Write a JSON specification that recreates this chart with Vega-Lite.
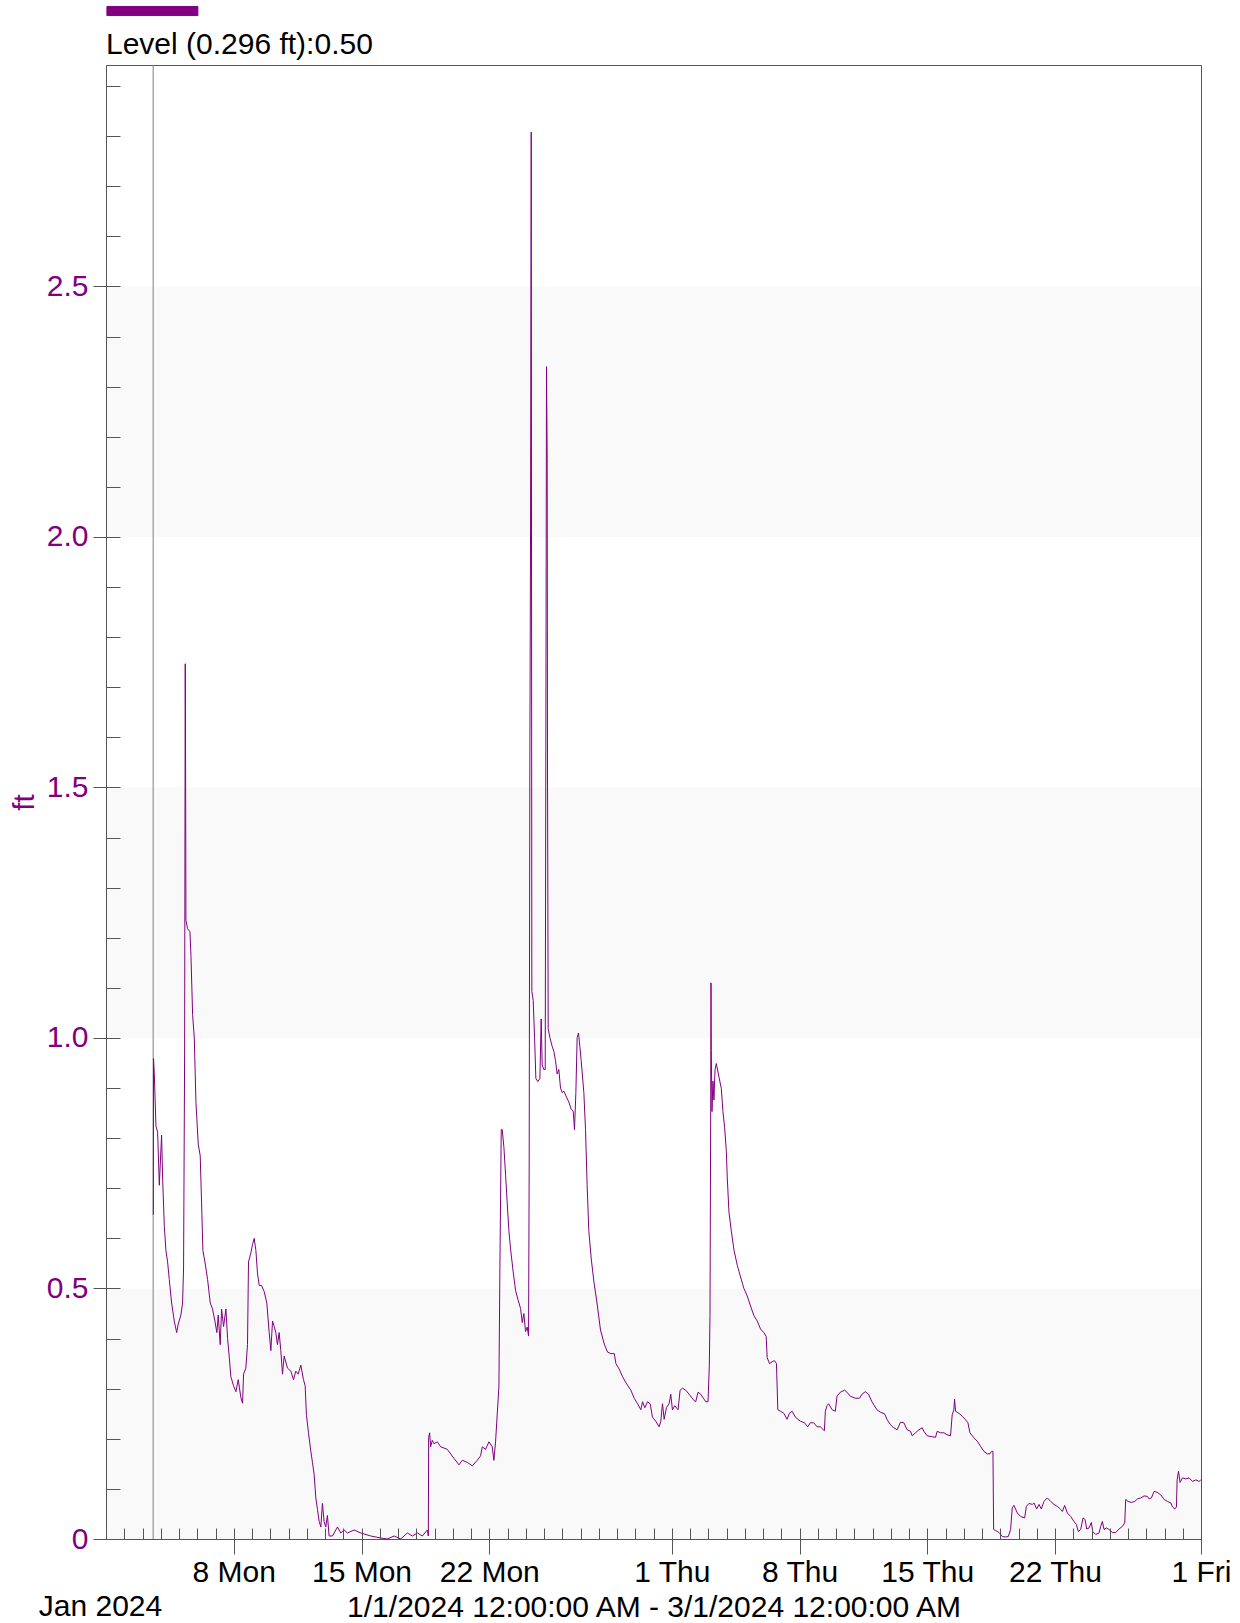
{
  "$schema": "https://vega.github.io/schema/vega-lite/v6.json",
  "width": 1095,
  "height": 1474,
  "autosize": "none",
  "padding": {"left": 106, "top": 65, "right": 39, "bottom": 84},
  "background": "white",
  "config": {
    "font": "Liberation Sans",
    "view": {"stroke": "#555555", "strokeWidth": 1}
  },
  "resolve": {"axis": {"x": "independent", "y": "independent"}},
  "layer": [
    {
      "data": {"values": [{"lo": 0, "hi": 0.5}, {"lo": 1, "hi": 1.5}, {"lo": 2, "hi": 2.5}]},
      "mark": {"type": "rect", "color": "black", "opacity": 0.024},
      "encoding": {
        "y": {"field": "lo", "type": "quantitative", "scale": {"domain": [0, 2.942], "nice": false},
          "axis": {"orient": "left", "values": [0,0.1,0.2,0.3,0.4,0.5,0.6,0.7,0.8,0.9,1,1.1,1.2,1.3,1.4,1.5,1.6,1.7,1.8,1.9,2,2.1,2.2,2.3,2.4,2.5,2.6,2.7,2.8,2.9],
            "tickSize": -14, "tickColor": "#555555", "labels": false, "domain": false, "grid": false, "title": null, "zindex": 1}},
        "y2": {"field": "hi"}
      }
    },
    {
      "data": {"values": [{"t": "2024-01-03T14:00"}]},
      "mark": {"type": "rule", "color": "#808080", "strokeWidth": 1},
      "encoding": {
        "x": {"field": "t", "type": "temporal",
          "scale": {"domain": [{"year": 2024, "month": 1, "date": 1}, {"year": 2024, "month": 3, "date": 1}]},
          "axis": {"orient": "bottom", "tickCount": {"interval": "day", "step": 1}, "tickSize": -11, "tickColor": "#555555", "labels": false, "domain": false, "grid": false, "title": null, "zindex": 1}}
      }
    },
    {
      "data": {"values": [
        {"t":"2024-01-03T14:12","v":0.647},{"t":"2024-01-03T14:30","v":0.959},{"t":"2024-01-03T15:30","v":0.929},{"t":"2024-01-03T17:42","v":0.824},{"t":"2024-01-03T19:54","v":0.812},{"t":"2024-01-03T22:06","v":0.706},{"t":"2024-01-04T01:06","v":0.806},{"t":"2024-01-04T02:30","v":0.718},{"t":"2024-01-04T04:42","v":0.624},{"t":"2024-01-04T06:48","v":0.576},{"t":"2024-01-04T09:00","v":0.553},{"t":"2024-01-04T11:12","v":0.518},{"t":"2024-01-04T14:18","v":0.471},{"t":"2024-01-04T17:48","v":0.435},{"t":"2024-01-04T20:54","v":0.412},{"t":"2024-01-04T23:00","v":0.429},{"t":"2024-01-05T02:30","v":0.447},{"t":"2024-01-05T04:42","v":0.471},{"t":"2024-01-05T06:00","v":0.541},{"t":"2024-01-05T07:24","v":0.976},{"t":"2024-01-05T08:12","v":1.747},{"t":"2024-01-05T08:42","v":1.529},{"t":"2024-01-05T09:06","v":1.235},{"t":"2024-01-05T11:18","v":1.218},{"t":"2024-01-05T14:24","v":1.212},{"t":"2024-01-05T15:42","v":1.165},{"t":"2024-01-05T17:54","v":1.047},{"t":"2024-01-05T20:06","v":1.0},{"t":"2024-01-05T22:18","v":0.871},{"t":"2024-01-06T01:18","v":0.788},{"t":"2024-01-06T03:54","v":0.765},{"t":"2024-01-06T05:42","v":0.671},{"t":"2024-01-06T07:24","v":0.576},{"t":"2024-01-06T10:06","v":0.553},{"t":"2024-01-06T13:36","v":0.518},{"t":"2024-01-06T17:06","v":0.471},{"t":"2024-01-06T20:06","v":0.459},{"t":"2024-01-06T23:12","v":0.435},{"t":"2024-01-07T01:48","v":0.412},{"t":"2024-01-07T03:36","v":0.447},{"t":"2024-01-07T06:12","v":0.388},{"t":"2024-01-07T08:00","v":0.459},{"t":"2024-01-07T10:36","v":0.424},{"t":"2024-01-07T13:42","v":0.459},{"t":"2024-01-07T15:54","v":0.4},{"t":"2024-01-07T18:00","v":0.365},{"t":"2024-01-07T20:12","v":0.324},{"t":"2024-01-07T23:42","v":0.306},{"t":"2024-01-08T02:48","v":0.294},{"t":"2024-01-08T05:54","v":0.318},{"t":"2024-01-08T09:24","v":0.282},{"t":"2024-01-08T11:36","v":0.271},{"t":"2024-01-08T12:54","v":0.329},{"t":"2024-01-08T15:54","v":0.341},{"t":"2024-01-08T18:06","v":0.388},{"t":"2024-01-08T19:24","v":0.553},{"t":"2024-01-08T22:30","v":0.571},{"t":"2024-01-09T00:42","v":0.588},{"t":"2024-01-09T02:54","v":0.6},{"t":"2024-01-09T05:06","v":0.576},{"t":"2024-01-09T07:18","v":0.529},{"t":"2024-01-09T09:30","v":0.506},{"t":"2024-01-09T12:30","v":0.506},{"t":"2024-01-09T16:00","v":0.494},{"t":"2024-01-09T19:30","v":0.471},{"t":"2024-01-09T22:36","v":0.412},{"t":"2024-01-10T00:48","v":0.376},{"t":"2024-01-10T03:00","v":0.435},{"t":"2024-01-10T05:12","v":0.424},{"t":"2024-01-10T07:18","v":0.412},{"t":"2024-01-10T09:30","v":0.388},{"t":"2024-01-10T11:42","v":0.412},{"t":"2024-01-10T13:54","v":0.376},{"t":"2024-01-10T16:06","v":0.329},{"t":"2024-01-10T18:18","v":0.365},{"t":"2024-01-10T22:42","v":0.341},{"t":"2024-01-11T03:06","v":0.335},{"t":"2024-01-11T06:36","v":0.318},{"t":"2024-01-11T09:36","v":0.335},{"t":"2024-01-11T12:42","v":0.329},{"t":"2024-01-11T16:12","v":0.347},{"t":"2024-01-11T19:42","v":0.318},{"t":"2024-01-11T21:54","v":0.306},{"t":"2024-01-11T23:36","v":0.247},{"t":"2024-01-12T02:18","v":0.212},{"t":"2024-01-12T05:18","v":0.176},{"t":"2024-01-12T07:30","v":0.153},{"t":"2024-01-12T09:42","v":0.129},{"t":"2024-01-12T11:54","v":0.082},{"t":"2024-01-12T14:06","v":0.059},{"t":"2024-01-12T16:18","v":0.035},{"t":"2024-01-12T18:30","v":0.024},{"t":"2024-01-12T20:36","v":0.071},{"t":"2024-01-12T22:48","v":0.035},{"t":"2024-01-13T01:00","v":0.024},{"t":"2024-01-13T03:12","v":0.047},{"t":"2024-01-13T05:24","v":0.006},{"t":"2024-01-13T09:48","v":0.006},{"t":"2024-01-13T16:24","v":0.024},{"t":"2024-01-13T20:42","v":0.012},{"t":"2024-01-14T01:06","v":0.018},{"t":"2024-01-14T05:30","v":0.012},{"t":"2024-01-14T14:18","v":0.018},{"t":"2024-01-14T23:00","v":0.012},{"t":"2024-01-15T12:12","v":0.006},{"t":"2024-01-16T01:18","v":0.002},{"t":"2024-01-16T10:00","v":0.0},{"t":"2024-01-16T18:48","v":0.006},{"t":"2024-01-17T03:36","v":0.0},{"t":"2024-01-17T12:18","v":0.012},{"t":"2024-01-17T18:54","v":0.006},{"t":"2024-01-18T01:30","v":0.012},{"t":"2024-01-18T08:00","v":0.006},{"t":"2024-01-18T14:36","v":0.018},{"t":"2024-01-18T15:54","v":0.006},
        {"t":"2024-01-18T16:18","v":0.203},{"t":"2024-01-18T17:36","v":0.212},{"t":"2024-01-18T18:54","v":0.184},{"t":"2024-01-18T21:06","v":0.197},{"t":"2024-01-18T23:18","v":0.19},{"t":"2024-01-19T03:42","v":0.194},{"t":"2024-01-19T08:06","v":0.184},{"t":"2024-01-19T16:48","v":0.179},{"t":"2024-01-20T01:36","v":0.161},{"t":"2024-01-20T08:12","v":0.148},{"t":"2024-01-20T12:30","v":0.157},{"t":"2024-01-20T19:06","v":0.153},{"t":"2024-01-21T01:42","v":0.146},{"t":"2024-01-21T08:12","v":0.157},{"t":"2024-01-21T12:36","v":0.166},{"t":"2024-01-21T14:48","v":0.184},{"t":"2024-01-21T19:12","v":0.179},{"t":"2024-01-21T23:36","v":0.194},{"t":"2024-01-22T03:54","v":0.184},{"t":"2024-01-22T06:06","v":0.157},{"t":"2024-01-22T08:18","v":0.194},{"t":"2024-01-22T10:30","v":0.249},{"t":"2024-01-22T12:42","v":0.304},{"t":"2024-01-22T14:00","v":0.542},{"t":"2024-01-22T15:48","v":0.817},{"t":"2024-01-22T17:06","v":0.817},{"t":"2024-01-22T19:18","v":0.781},{"t":"2024-01-22T21:30","v":0.726},{"t":"2024-01-22T23:36","v":0.671},{"t":"2024-01-23T01:48","v":0.616},{"t":"2024-01-23T04:00","v":0.579},{"t":"2024-01-23T07:30","v":0.533},{"t":"2024-01-23T10:36","v":0.496},{"t":"2024-01-23T13:42","v":0.478},{"t":"2024-01-23T17:12","v":0.46},{"t":"2024-01-23T19:24","v":0.432},{"t":"2024-01-23T21:30","v":0.45},{"t":"2024-01-23T23:42","v":0.414},{"t":"2024-01-24T01:54","v":0.423},{"t":"2024-01-24T03:42","v":0.405},{"t":"2024-01-24T04:30","v":0.744},{"t":"2024-01-24T05:24","v":1.551},{"t":"2024-01-24T06:18","v":2.01},{"t":"2024-01-24T07:12","v":2.808},{"t":"2024-01-24T08:00","v":1.093},{"t":"2024-01-24T09:48","v":1.075},{"t":"2024-01-24T11:36","v":1.001},{"t":"2024-01-24T13:18","v":0.919},{"t":"2024-01-24T15:54","v":0.913},{"t":"2024-01-24T18:36","v":0.919},{"t":"2024-01-24T20:18","v":1.038},{"t":"2024-01-24T21:36","v":0.946},{"t":"2024-01-24T23:48","v":0.937},{"t":"2024-01-25T01:36","v":0.937},{"t":"2024-01-25T02:24","v":1.551},{"t":"2024-01-25T03:18","v":2.34},{"t":"2024-01-25T04:12","v":2.157},{"t":"2024-01-25T04:36","v":1.551},{"t":"2024-01-25T05:30","v":1.019},{"t":"2024-01-25T07:42","v":1.001},{"t":"2024-01-25T10:48","v":0.983},{"t":"2024-01-25T13:00","v":0.973},{"t":"2024-01-25T15:06","v":0.955},{"t":"2024-01-25T17:18","v":0.928},{"t":"2024-01-25T19:30","v":0.937},{"t":"2024-01-25T21:42","v":0.9},{"t":"2024-01-25T23:54","v":0.891},{"t":"2024-01-26T02:06","v":0.894},{"t":"2024-01-26T05:36","v":0.882},{"t":"2024-01-26T08:42","v":0.872},{"t":"2024-01-26T11:42","v":0.858},{"t":"2024-01-26T14:24","v":0.854},{"t":"2024-01-26T16:06","v":0.817},{"t":"2024-01-26T17:54","v":0.891},{"t":"2024-01-26T19:36","v":1.001},{"t":"2024-01-26T21:24","v":1.01},{"t":"2024-01-26T23:06","v":0.983},{"t":"2024-01-27T00:54","v":0.955},{"t":"2024-01-27T04:24","v":0.891},{"t":"2024-01-27T06:36","v":0.817},{"t":"2024-01-27T08:42","v":0.707},{"t":"2024-01-27T10:54","v":0.616},{"t":"2024-01-27T14:00","v":0.561},{"t":"2024-01-27T17:30","v":0.515},{"t":"2024-01-27T21:54","v":0.469},{"t":"2024-01-28T02:18","v":0.417},
        {"t":"2024-01-28T07:18","v":0.389},{"t":"2024-01-28T11:36","v":0.373},{"t":"2024-01-28T16:00","v":0.37},{"t":"2024-01-28T20:24","v":0.37},{"t":"2024-01-28T22:36","v":0.35},{"t":"2024-01-29T02:54","v":0.339},{"t":"2024-01-29T07:18","v":0.324},{"t":"2024-01-29T11:42","v":0.312},{"t":"2024-01-29T18:12","v":0.297},{"t":"2024-01-29T22:36","v":0.281},{"t":"2024-01-30T03:00","v":0.27},{"t":"2024-01-30T07:24","v":0.258},{"t":"2024-01-30T09:36","v":0.274},{"t":"2024-01-30T12:36","v":0.262},{"t":"2024-01-30T16:06","v":0.274},{"t":"2024-01-30T19:36","v":0.27},{"t":"2024-01-30T22:42","v":0.243},{"t":"2024-01-31T03:00","v":0.235},{"t":"2024-01-31T07:24","v":0.224},{"t":"2024-01-31T09:36","v":0.235},{"t":"2024-01-31T11:48","v":0.27},{"t":"2024-01-31T14:00","v":0.239},{"t":"2024-01-31T17:00","v":0.262},{"t":"2024-01-31T20:30","v":0.27},{"t":"2024-01-31T22:42","v":0.289},{"t":"2024-02-01T00:54","v":0.258},{"t":"2024-02-01T04:00","v":0.266},{"t":"2024-02-01T08:18","v":0.258},{"t":"2024-02-01T11:00","v":0.297},{"t":"2024-02-01T14:00","v":0.301},{"t":"2024-02-01T18:24","v":0.297},{"t":"2024-02-01T22:48","v":0.289},{"t":"2024-02-02T04:24","v":0.278},{"t":"2024-02-02T07:30","v":0.274},{"t":"2024-02-02T10:36","v":0.293},{"t":"2024-02-02T14:06","v":0.289},{"t":"2024-02-02T17:36","v":0.281},{"t":"2024-02-02T20:36","v":0.274},{"t":"2024-02-02T23:42","v":0.274},{"t":"2024-02-03T01:24","v":0.347},{"t":"2024-02-03T02:18","v":0.446},{"t":"2024-02-03T03:12","v":0.853},{"t":"2024-02-03T03:36","v":1.11},{"t":"2024-02-03T04:00","v":0.975},{"t":"2024-02-03T04:54","v":0.853},{"t":"2024-02-03T06:12","v":0.914},{"t":"2024-02-03T07:30","v":0.876},{"t":"2024-02-03T08:54","v":0.937},{"t":"2024-02-03T10:36","v":0.949},{"t":"2024-02-03T14:06","v":0.922},{"t":"2024-02-03T17:12","v":0.899},{"t":"2024-02-03T19:18","v":0.853},{"t":"2024-02-03T21:30","v":0.822},{"t":"2024-02-03T23:42","v":0.776},{"t":"2024-02-04T01:00","v":0.722},{"t":"2024-02-04T03:12","v":0.653},{"t":"2024-02-04T06:18","v":0.615},{"t":"2024-02-04T09:48","v":0.577},{"t":"2024-02-04T14:12","v":0.546},{"t":"2024-02-04T18:30","v":0.523},{"t":"2024-02-04T22:54","v":0.5},{"t":"2024-02-05T03:18","v":0.485},{"t":"2024-02-05T07:36","v":0.465},{"t":"2024-02-05T12:00","v":0.446},{"t":"2024-02-05T16:24","v":0.435},{"t":"2024-02-05T20:48","v":0.419},{"t":"2024-02-06T01:06","v":0.412},{"t":"2024-02-06T04:12","v":0.404},{"t":"2024-02-06T05:30","v":0.362},{"t":"2024-02-06T08:36","v":0.35},{"t":"2024-02-06T12:06","v":0.354},{"t":"2024-02-06T15:06","v":0.356},{"t":"2024-02-06T17:42","v":0.35},{"t":"2024-02-06T19:30","v":0.258},{"t":"2024-02-06T23:00","v":0.255},{"t":"2024-02-07T03:24","v":0.251},{"t":"2024-02-07T07:42","v":0.239},{"t":"2024-02-07T10:48","v":0.251},{"t":"2024-02-07T14:18","v":0.255},{"t":"2024-02-07T18:42","v":0.243},{"t":"2024-02-08T01:12","v":0.235},{"t":"2024-02-08T06:30","v":0.232},{"t":"2024-02-08T10:48","v":0.224},{"t":"2024-02-08T14:18","v":0.232},{"t":"2024-02-08T18:42","v":0.232},{"t":"2024-02-08T23:06","v":0.224},{"t":"2024-02-09T03:24","v":0.224},{"t":"2024-02-09T08:42","v":0.216},{"t":"2024-02-09T10:00","v":0.255},{"t":"2024-02-09T12:12","v":0.266},{"t":"2024-02-09T14:24","v":0.27},{"t":"2024-02-09T18:48","v":0.258},{"t":"2024-02-09T23:06","v":0.255},{"t":"2024-02-10T01:18","v":0.285},{"t":"2024-02-10T05:42","v":0.293},{"t":"2024-02-10T11:24","v":0.297},{"t":"2024-02-10T14:24","v":0.293},{"t":"2024-02-10T18:48","v":0.285},{"t":"2024-02-11T01:24","v":0.281},{"t":"2024-02-11T07:00","v":0.281},{"t":"2024-02-11T10:06","v":0.289},{"t":"2024-02-11T14:30","v":0.294},{"t":"2024-02-11T18:48","v":0.289},{"t":"2024-02-11T23:12","v":0.274},{"t":"2024-02-12T05:48","v":0.258},
        {"t":"2024-02-12T10:30","v":0.253},{"t":"2024-02-12T15:48","v":0.25},{"t":"2024-02-12T19:18","v":0.238},{"t":"2024-02-12T23:42","v":0.228},{"t":"2024-02-13T04:00","v":0.222},{"t":"2024-02-13T08:24","v":0.218},{"t":"2024-02-13T12:48","v":0.233},{"t":"2024-02-13T17:12","v":0.232},{"t":"2024-02-13T21:36","v":0.218},{"t":"2024-02-14T02:00","v":0.215},{"t":"2024-02-14T04:12","v":0.206},{"t":"2024-02-14T08:36","v":0.212},{"t":"2024-02-14T13:00","v":0.218},{"t":"2024-02-14T17:24","v":0.222},{"t":"2024-02-14T19:30","v":0.215},{"t":"2024-02-14T23:54","v":0.206},{"t":"2024-02-15T06:30","v":0.204},{"t":"2024-02-15T10:54","v":0.203},{"t":"2024-02-15T13:06","v":0.215},{"t":"2024-02-15T17:30","v":0.212},{"t":"2024-02-15T21:54","v":0.212},{"t":"2024-02-16T02:06","v":0.208},{"t":"2024-02-16T06:36","v":0.206},{"t":"2024-02-16T08:48","v":0.248},{"t":"2024-02-16T11:00","v":0.258},{"t":"2024-02-16T11:54","v":0.279},{"t":"2024-02-16T13:12","v":0.255},{"t":"2024-02-16T17:36","v":0.251},{"t":"2024-02-16T22:00","v":0.245},{"t":"2024-02-17T02:24","v":0.238},{"t":"2024-02-17T05:30","v":0.232},{"t":"2024-02-17T08:06","v":0.212},{"t":"2024-02-17T13:24","v":0.202},{"t":"2024-02-17T17:48","v":0.195},{"t":"2024-02-17T22:06","v":0.185},{"t":"2024-02-18T02:30","v":0.175},{"t":"2024-02-18T06:54","v":0.17},{"t":"2024-02-18T10:24","v":0.17},{"t":"2024-02-18T12:36","v":0.175},{"t":"2024-02-18T14:24","v":0.175},{"t":"2024-02-18T15:18","v":0.019},{"t":"2024-02-18T17:54","v":0.017},{"t":"2024-02-18T22:18","v":0.013},{"t":"2024-02-19T02:42","v":0.005},{"t":"2024-02-19T07:06","v":0.004},{"t":"2024-02-19T10:36","v":0.005},{"t":"2024-02-19T13:36","v":0.019},{"t":"2024-02-19T15:48","v":0.062},{"t":"2024-02-19T18:00","v":0.067},{"t":"2024-02-19T22:24","v":0.052},{"t":"2024-02-20T02:48","v":0.045},{"t":"2024-02-20T08:06","v":0.042},{"t":"2024-02-20T10:18","v":0.065},{"t":"2024-02-20T13:48","v":0.071},{"t":"2024-02-20T18:12","v":0.069},{"t":"2024-02-20T20:24","v":0.072},{"t":"2024-02-20T23:54","v":0.06},{"t":"2024-02-21T02:54","v":0.069},{"t":"2024-02-21T06:00","v":0.06},{"t":"2024-02-21T09:30","v":0.075},{"t":"2024-02-21T13:54","v":0.082},{"t":"2024-02-21T18:18","v":0.075},{"t":"2024-02-21T22:42","v":0.069},{"t":"2024-02-22T03:06","v":0.065},{"t":"2024-02-22T07:30","v":0.059},{"t":"2024-02-22T09:42","v":0.055},{"t":"2024-02-22T12:42","v":0.067},{"t":"2024-02-22T16:12","v":0.052},{"t":"2024-02-22T20:36","v":0.045},{"t":"2024-02-23T01:00","v":0.035},{"t":"2024-02-23T04:06","v":0.029},{"t":"2024-02-23T06:42","v":0.015},{"t":"2024-02-23T09:48","v":0.019},{"t":"2024-02-23T12:54","v":0.042},{"t":"2024-02-23T15:30","v":0.039},{"t":"2024-02-23T17:42","v":0.02},{"t":"2024-02-23T20:48","v":0.022},{"t":"2024-02-23T23:48","v":0.033},{"t":"2024-02-24T01:36","v":0.015},{"t":"2024-02-24T05:30","v":0.009},{"t":"2024-02-24T09:54","v":0.012},{"t":"2024-02-24T12:06","v":0.025},{"t":"2024-02-24T14:18","v":0.035},{"t":"2024-02-24T16:30","v":0.019},{"t":"2024-02-24T19:36","v":0.022},{"t":"2024-02-24T23:06","v":0.019},{"t":"2024-02-25T03:30","v":0.013},{"t":"2024-02-25T07:54","v":0.013},{"t":"2024-02-25T12:12","v":0.02},{"t":"2024-02-25T16:36","v":0.025},{"t":"2024-02-25T19:42","v":0.032},{"t":"2024-02-25T21:00","v":0.079},{"t":"2024-02-26T00:06","v":0.075},{"t":"2024-02-26T04:30","v":0.073},{"t":"2024-02-26T08:54","v":0.075},{"t":"2024-02-26T12:24","v":0.08},{"t":"2024-02-26T16:48","v":0.082},{"t":"2024-02-26T21:12","v":0.086},{"t":"2024-02-27T01:30","v":0.085},{"t":"2024-02-27T03:42","v":0.08},{"t":"2024-02-27T06:48","v":0.082},{"t":"2024-02-27T10:18","v":0.095},{"t":"2024-02-27T14:42","v":0.093},{"t":"2024-02-27T19:06","v":0.088},{"t":"2024-02-27T23:30","v":0.079},{"t":"2024-02-28T03:54","v":0.075},{"t":"2024-02-28T08:18","v":0.072},{"t":"2024-02-28T10:30","v":0.064},{"t":"2024-02-28T13:30","v":0.06},{"t":"2024-02-28T15:42","v":0.064},{"t":"2024-02-28T16:36","v":0.118},{"t":"2024-02-28T18:24","v":0.135},{"t":"2024-02-28T20:30","v":0.113},{"t":"2024-02-28T23:36","v":0.122},{"t":"2024-02-29T04:00","v":0.12},{"t":"2024-02-29T08:24","v":0.122},{"t":"2024-02-29T12:48","v":0.115},{"t":"2024-02-29T17:12","v":0.118},{"t":"2024-02-29T21:36","v":0.115},{"t":"2024-02-29T23:50","v":0.118}
      ]},
      "mark": {"type": "line", "strokeWidth": 1},
      "encoding": {
        "x": {"field": "t", "type": "temporal",
          "scale": {"domain": [{"year": 2024, "month": 1, "date": 1}, {"year": 2024, "month": 3, "date": 1}]},
          "axis": {"orient": "bottom",
            "values": [{"year": 2024, "month": 1, "date": 1}, {"year": 2024, "month": 1, "date": 8}, {"year": 2024, "month": 1, "date": 15}, {"year": 2024, "month": 1, "date": 22}, {"year": 2024, "month": 2, "date": 1}, {"year": 2024, "month": 2, "date": 8}, {"year": 2024, "month": 2, "date": 15}, {"year": 2024, "month": 2, "date": 22}, {"year": 2024, "month": 3, "date": 1}],
            "tickSize": 15,
            "tickColor": {"condition": {"test": "month(datum.value)==0 && date(datum.value)==1", "value": "transparent"}, "value": "#555555"},
            "labelExpr": "month(datum.value)==0 && date(datum.value)==1 ? ['', 'Jan 2024'] : timeFormat(datum.value, '%-d %a')",
            "labelOffset": {"condition": {"test": "month(datum.value)==0 && date(datum.value)==1", "value": -6}, "value": 0},
            "labelFontSize": 30, "labelColor": "black", "labelPadding": 3, "labelLineHeight": 34,
            "labelFlush": false, "labelOverlap": false, "labelBound": false,
            "domain": false, "grid": false, "zindex": 1,
            "title": "1/1/2024 12:00:00 AM - 3/1/2024 12:00:00 AM",
            "titleFontSize": 30, "titleFontWeight": "normal", "titleColor": "black", "titleBaseline": "top", "titleY": 53}},
        "y": {"field": "v", "type": "quantitative",
          "scale": {"domain": [0, 2.942], "nice": false},
          "axis": {"orient": "left", "values": [0, 0.5, 1, 1.5, 2, 2.5], "tickSize": 13, "tickColor": "#555555",
            "labelExpr": "datum.value == 0 ? '0' : format(datum.value, '.1f')",
            "labelFontSize": 30, "labelColor": "#800080", "labelPadding": 5,
            "domain": false, "grid": false, "zindex": 1,
            "title": "ft", "titleFontSize": 30, "titleFontWeight": "normal", "titleColor": "#800080", "titlePadding": 7}},
        "color": {"datum": "Level", "type": "nominal", "scale": {"range": ["#800080"]},
          "legend": {"orient": "none", "legendX": 0, "legendY": -64,
            "title": "Level (0.296 ft):0.50", "titleOrient": "bottom", "titleAnchor": "start", "titleFontSize": 30, "titleFontWeight": "normal", "titleColor": "black", "titleFont": "Liberation Sans", "titlePadding": 12, "titleLimit": 1000, "titleBaseline": "top",
            "labelExpr": "''",
            "symbolType": "M-5,-0.5H5V0.5H-5Z", "symbolSize": 331, "symbolOffset": 36.4, "symbolFillColor": "#800080", "symbolStrokeColor": "#444444", "symbolStrokeWidth": 1, "padding": 0,
            "encode": {"symbols": {"update": {"fill": {"value": "#800080"}, "stroke": {"value": "#444444"}, "strokeWidth": {"value": 1}, "opacity": {"value": 1}}}}}}
      }
    }
  ]
}
